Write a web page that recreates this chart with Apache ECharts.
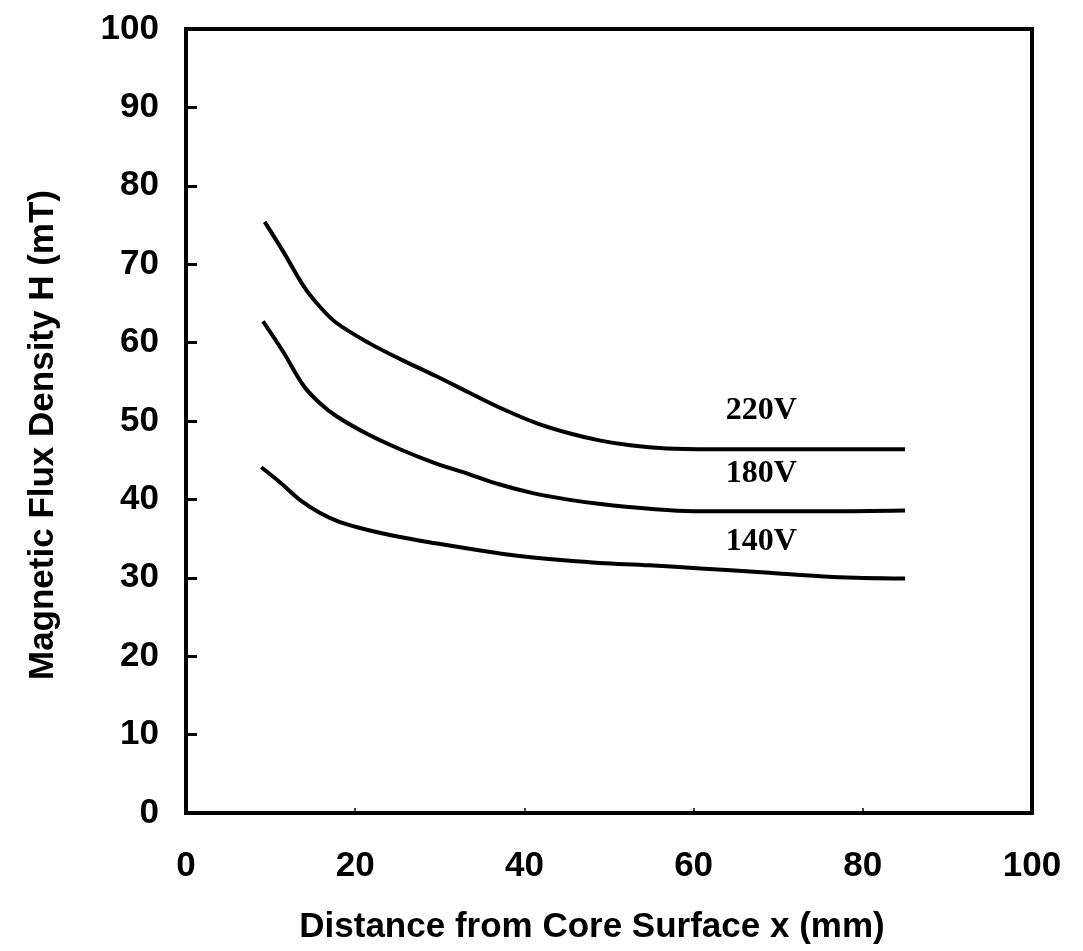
<!DOCTYPE html>
<html>
<head>
<meta charset="utf-8">
<script src="https://cdn.jsdelivr.net/npm/echarts@6/dist/echarts.min.js"></script>
<style>
  html, body { margin: 0; padding: 0; background: #fff; }
  #chart { width: 1083px; height: 951px; }
</style>
</head>
<body>
<div id="chart"></div>
<script>
// Distance from core surface (mm) and flux density (mT) for each supply voltage
const x220 = [9.3, 11.5, 13.9, 15.8, 17.8, 21.7, 25.5, 29.6, 33.5, 37.5, 41.5, 45.4, 49.0, 52.5, 56.8, 62.0, 68.0, 75.0, 85.0];
const y220 = [75.4, 71.6, 67.2, 64.6, 62.5, 59.9, 57.8, 55.7, 53.6, 51.5, 49.7, 48.4, 47.5, 46.9, 46.5, 46.4, 46.4, 46.4, 46.4];

const x180 = [9.1, 11.5, 13.9, 15.8, 17.8, 21.5, 25.5, 29.5, 33.5, 37.1, 41.0, 45.0, 49.0, 54.8, 60.0, 68.0, 76.0, 85.0];
const y180 = [62.7, 58.8, 54.5, 52.3, 50.6, 48.3, 46.3, 44.6, 43.2, 41.9, 40.8, 40.0, 39.4, 38.8, 38.5, 38.5, 38.5, 38.6];

const x140 = [8.9, 11.2, 13.5, 15.8, 18.2, 21.5, 25.3, 29.5, 33.5, 37.1, 41.0, 45.0, 48.9, 54.8, 60.8, 68.0, 76.5, 85.0];
const y140 = [44.1, 42.1, 39.9, 38.3, 37.1, 36.1, 35.2, 34.4, 33.7, 33.1, 32.6, 32.2, 31.9, 31.6, 31.2, 30.7, 30.1, 29.9];

const voltageNames = ['220V', '180V', '140V'];
const xTicks = [0, 20, 40, 60, 80, 100];
const yTicks = [0, 10, 20, 30, 40, 50, 60, 70, 80, 90, 100];

// Curve labels sit above each curve at this distance (mm)
const labelX = 68;
const labelLift = [38, 37, 31];

function pairs(xs, ys) {
  return xs.map((v, i) => [v, ys[i]]);
}
function valueAt(xs, ys, x) {
  let best = 0;
  xs.forEach((v, i) => { if (Math.abs(v - x) < Math.abs(xs[best] - x)) best = i; });
  return ys[best];
}

const curves = [[x220, y220], [x180, y180], [x140, y140]];

const series = curves.map(([xs, ys], k) => ({
  name: voltageNames[k],
  type: 'line',
  data: pairs(xs, ys),
  smooth: 0.35,
  showSymbol: false,
  lineStyle: { color: '#000', width: 4 },
  markPoint: {
    symbol: 'circle',
    symbolSize: 0,
    data: [{ coord: [labelX, valueAt(xs, ys, labelX)] }],
    label: {
      show: true,
      formatter: voltageNames[k],
      offset: [0, -labelLift[k]],
      color: '#000',
      fontFamily: 'Liberation Serif',
      fontWeight: 'bold',
      fontSize: 32
    }
  }
}));

const tickFont = { fontFamily: 'Liberation Sans', fontWeight: 'bold', fontSize: 35, color: '#000' };

const chart = echarts.init(document.getElementById('chart'), null, { renderer: 'canvas' });
chart.setOption({
  backgroundColor: '#fff',
  animation: false,
  grid: {
    left: 186, right: 51, top: 29, bottom: 138,
    show: true, borderColor: '#000', borderWidth: 4
  },
  xAxis: {
    type: 'value',
    min: xTicks[0], max: xTicks[xTicks.length - 1], interval: 20,
    name: 'Distance from Core Surface x (mm)',
    nameLocation: 'middle',
    nameGap: 97,
    nameTextStyle: { ...tickFont, padding: [0, 34, 0, 0] },
    axisLine: { lineStyle: { color: '#000', width: 4 } },
    axisTick: { inside: true, length: 5, lineStyle: { color: '#000', width: 1.5 } },
    axisLabel: { ...tickFont, margin: 36 },
    splitLine: { show: false }
  },
  yAxis: {
    type: 'value',
    min: yTicks[0], max: yTicks[yTicks.length - 1], interval: 10,
    name: 'Magnetic Flux Density H (mT)',
    nameLocation: 'middle',
    nameGap: 125,
    nameTextStyle: { ...tickFont, padding: [0, 28, 0, 0] },
    axisLine: { lineStyle: { color: '#000', width: 4 } },
    axisTick: { inside: true, length: 11, lineStyle: { color: '#000', width: 3 } },
    axisLabel: { ...tickFont, margin: 27 },
    splitLine: { show: false }
  },
  series: series
});
</script>
</body>
</html>
